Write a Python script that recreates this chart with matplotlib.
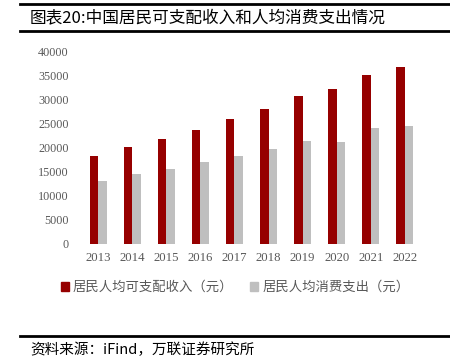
import matplotlib
matplotlib.use('Agg')
import matplotlib.pyplot as plt
from matplotlib.lines import Line2D
from matplotlib.patches import Patch
import numpy as np

plt.rcParams['font.family'] = ['Noto Sans CJK SC', 'DejaVu Sans']

years = ['2013', '2014', '2015', '2016', '2017', '2018', '2019', '2020', '2021', '2022']
income = [18311, 20167, 21966, 23821, 25974, 28228, 30733, 32189, 35128, 36883]
spending = [13220, 14491, 15712, 17111, 18322, 19853, 21559, 21210, 24100, 24538]

RED = '#960000'
GREY = '#BFBFBF'
TXT = '#595959'
SERIF = ['Liberation Serif', 'DejaVu Serif']

fig = plt.figure(figsize=(4.5, 3.62), dpi=100)
ax = fig.add_axes([81 / 450, 1 - 244 / 362, (422 - 81) / 450, (244 - 52) / 362])

x = np.arange(len(years))
w = 0.25
ax.bar(x - w / 2, income, width=w, color=RED, label='居民人均可支配收入（元）')
ax.bar(x + w / 2, spending, width=w, color=GREY, label='居民人均消费支出（元）')

ax.set_xlim(-0.5, len(years) - 0.5)
ax.set_ylim(0, 40000)
ax.set_yticks(range(0, 40001, 5000))
ax.set_yticklabels([str(v) for v in range(0, 40001, 5000)], family=SERIF,
                   fontsize=8.7, color=TXT)
ax.set_xticks(x)
ax.set_xticklabels(years, family=SERIF, fontsize=9.2, color=TXT)
ax.tick_params(axis='both', length=0)
ax.tick_params(axis='y', pad=9)
ax.tick_params(axis='x', pad=6)
for s in ax.spines.values():
    s.set_visible(False)

handles = [Patch(color=RED), Patch(color=GREY)]
fig.legend(handles, ['居民人均可支配收入（元）', '居民人均消费支出（元）'],
           loc='center', bbox_to_anchor=(235 / 450, 1 - 287 / 362), ncol=2, frameon=False,
           prop={'size': 9.6}, handlelength=0.6, handleheight=0.6,
           handletextpad=0.3, columnspacing=1.3, labelcolor=TXT)

# rules
for y, lw in [(4, 2.0), (31, 2.0), (336, 2.0)]:
    fig.add_artist(Line2D([20 / 450, 1], [1 - y / 362] * 2, color='black', lw=lw,
                          transform=fig.transFigure))

fig.text(30 / 450, 1 - 18 / 362, '图表20:中国居民可支配收入和人均消费支出情况',
         fontsize=12, va='center', ha='left', color='black')
fig.text(30 / 450, 1 - 350 / 362, '资料来源：iFind，万联证券研究所',
         fontsize=10.5, va='center', ha='left', color='black', style='italic')

fig.savefig('out.png', dpi=100)
